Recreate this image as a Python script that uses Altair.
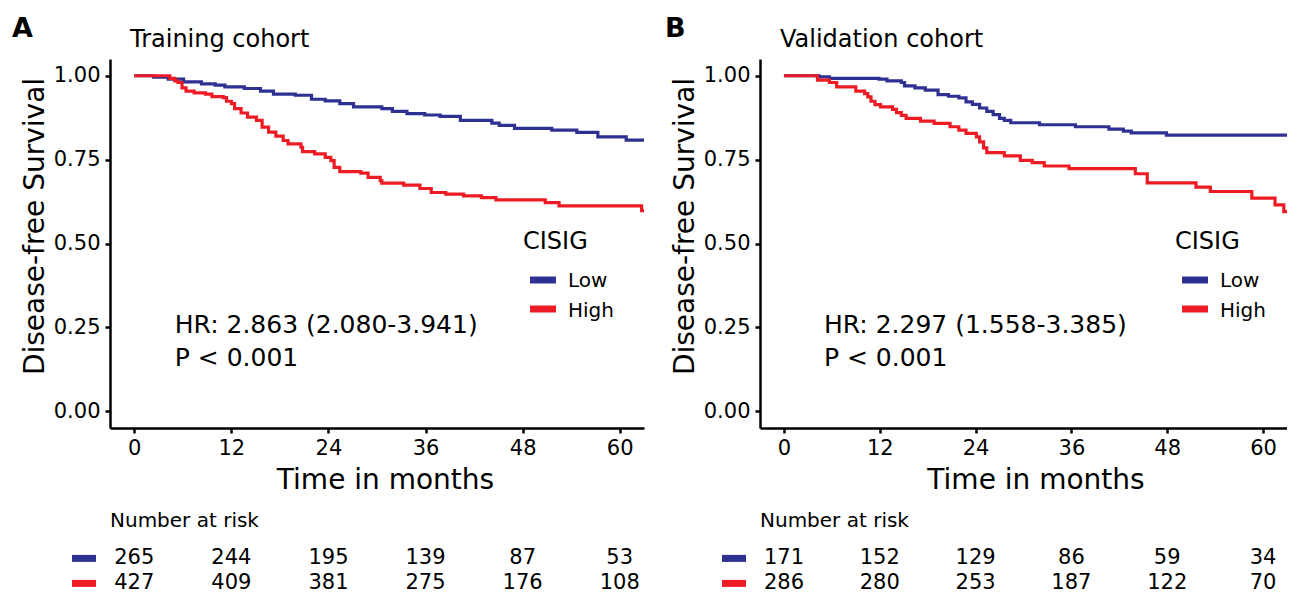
import altair as alt
import pandas as pd

BLUE = "#2E3192"
RED = "#ED1C24"
FONT = "DejaVu Sans"
GROUPS = ["Low", "High"]
TICKS = [0, 12, 24, 36, 48, 60]
YTICKS = [0, 0.25, 0.5, 0.75, 1.0]

# ---------------- Panel A: Training cohort ----------------
A_low_t = [0, 2.4, 4.2, 6.1, 8.3, 10.0, 11.2, 13.6, 15.6, 17.2, 19.9, 21.9, 23.6, 25.4,
           27.1, 30.6, 31.9, 33.7, 35.9, 37.8, 40.3, 44.2, 45.1, 47.0, 51.6, 54.7, 57.3,
           60.8, 63.0]
A_low_s = [1.000, 0.996, 0.990, 0.982, 0.976, 0.972, 0.967, 0.962, 0.954, 0.945, 0.942,
           0.930, 0.925, 0.917, 0.907, 0.902, 0.894, 0.887, 0.883, 0.879, 0.867, 0.859,
           0.852, 0.843, 0.838, 0.831, 0.818, 0.808, 0.808]
A_high_t = [0, 4.4, 5.0, 5.4, 5.9, 6.4, 7.4, 8.8, 9.6, 11.0, 11.4, 12.0, 12.4, 13.2, 14.0,
            15.1, 15.8, 16.6, 17.5, 18.4, 19.0, 20.6, 20.8, 22.3, 23.6, 24.3, 24.7, 25.4,
            28.0, 28.9, 30.4, 30.6, 33.3, 35.3, 36.7, 38.5, 40.7, 42.9, 44.7, 50.8, 52.5,
            62.7, 63.0]
A_high_s = [1.000, 0.992, 0.985, 0.980, 0.964, 0.954, 0.949, 0.945, 0.938, 0.935, 0.924,
            0.917, 0.902, 0.889, 0.877, 0.867, 0.847, 0.832, 0.820, 0.807, 0.797, 0.787,
            0.774, 0.767, 0.757, 0.747, 0.727, 0.714, 0.710, 0.697, 0.687, 0.680, 0.674,
            0.664, 0.652, 0.647, 0.642, 0.637, 0.630, 0.622, 0.612, 0.598, 0.598]
A_risk_low = [265, 244, 195, 139, 87, 53]
A_risk_high = [427, 409, 381, 275, 176, 108]
A_hr = "HR: 2.863 (2.080-3.941)"

# ---------------- Panel B: Validation cohort ----------------
B_low_t = [0, 4.4, 5.7, 11.9, 12.9, 14.7, 15.1, 16.4, 17.7, 19.3, 20.6, 21.9, 22.8, 23.6,
           24.5, 25.4, 26.2, 27.0, 27.6, 28.4, 32.0, 36.5, 40.7, 42.5, 43.5, 47.9, 63.0]
B_low_s = [1.000, 0.997, 0.992, 0.990, 0.985, 0.980, 0.970, 0.964, 0.957, 0.944, 0.939,
           0.934, 0.922, 0.915, 0.904, 0.894, 0.884, 0.873, 0.867, 0.860, 0.854, 0.848,
           0.841, 0.835, 0.830, 0.823, 0.823]
B_high_t = [0, 4.2, 5.7, 6.6, 9.0, 10.1, 10.5, 10.9, 11.4, 12.1, 13.6, 14.1, 14.7, 15.3,
            17.1, 18.8, 20.8, 21.9, 22.8, 24.1, 24.5, 25.0, 25.4, 27.6, 29.6, 31.1, 32.6,
            35.7, 44.0, 45.5, 51.6, 53.4, 58.6, 61.5, 62.6, 63.0]
B_high_s = [1.000, 0.987, 0.980, 0.967, 0.954, 0.947, 0.937, 0.924, 0.914, 0.907, 0.900,
            0.890, 0.882, 0.873, 0.865, 0.858, 0.848, 0.838, 0.828, 0.818, 0.803, 0.785,
            0.771, 0.761, 0.748, 0.741, 0.731, 0.723, 0.708, 0.681, 0.668, 0.655, 0.635,
            0.615, 0.595, 0.595]
B_risk_low = [171, 152, 129, 86, 59, 34]
B_risk_high = [286, 280, 253, 187, 122, 70]
B_hr = "HR: 2.297 (1.558-3.385)"

H = 369


def one_row():
    return alt.Data(values=[{"k": 1}])


def text_px(txt, x, y, size, bold=False, align="left", baseline="alphabetic"):
    return alt.Chart(one_row()).mark_text(
        text=txt, font=FONT, fontSize=size, fontWeight="bold" if bold else "normal",
        align=align, baseline=baseline, color="black"
    ).encode(x=alt.value(x), y=alt.value(y))


def rule_px(color, x1, x2, y, width=7):
    return alt.Chart(one_row()).mark_rule(color=color, strokeWidth=width).encode(
        x=alt.value(x1), x2=alt.value(x2), y=alt.value(y)
    )


def panel(letter, letter_x, title, lt, ls, ht, hs, rlow, rhigh, hr, lg_dx, width, tdx):
    xs = alt.Scale(domain=[-3.0, 63.0], nice=False, zero=False)
    ys = alt.Scale(domain=[-0.05, 1.05], nice=False, zero=False)
    xenc = alt.X("time:Q", scale=xs, axis=alt.Axis(
        values=TICKS, format="d", title="Time in months", labelPadding=4,
        titleX=width / 2 + tdx, titleY=60, titleAlign="center",
        titleBaseline="alphabetic"))
    yenc = alt.Y("surv:Q", scale=ys, axis=alt.Axis(
        values=YTICKS, format=".2f", title="Disease-free Survival",
        titleAngle=270, titleX=-67, titleY=167, titleAlign="center",
        titleBaseline="alphabetic"))
    color = alt.Color("group:N", scale=alt.Scale(domain=GROUPS, range=[BLUE, RED]),
                      legend=None)

    df = pd.concat([
        pd.DataFrame({"time": lt, "surv": ls, "group": "Low"}),
        pd.DataFrame({"time": ht, "surv": hs, "group": "High"}),
    ])
    curves = alt.Chart(df).mark_line(interpolate="step-after", strokeWidth=3.2,
                                     clip=True).encode(x=xenc, y=yenc, color=color)

    hrdf = pd.DataFrame({"time": [5.0, 5.0], "surv": [0.233, 0.134],
                         "label": [hr, "P < 0.001"]})
    hrt = alt.Chart(hrdf).mark_text(align="left", baseline="alphabetic", font=FONT,
                                    fontSize=25, color="black").encode(
        x=xenc, y=yenc, text="label:N")

    riskdf = pd.DataFrame({"time": TICKS + TICKS, "n": rlow + rhigh,
                           "group": ["Low"] * 6 + ["High"] * 6})
    risk_layers = []
    for g, ypx in zip(GROUPS, [499.4, 524.4]):
        risk_layers.append(
            alt.Chart(riskdf).transform_filter(alt.datum.group == g).mark_text(
                align="center", baseline="middle", font=FONT, fontSize=21, color="black"
            ).encode(x=xenc, text="n:Q", y=alt.value(ypx))
        )

    layers = [
        curves, hrt, *risk_layers,
        text_px(letter, letter_x, -22.3, 27, bold=True),
        text_px(title, 20, -12.3, 24),
        # legend
        text_px("CISIG", 413 + lg_dx, 189.7, 24),
        rule_px(BLUE, 420 + lg_dx, 446 + lg_dx, 221),
        rule_px(RED, 420 + lg_dx, 446 + lg_dx, 250),
        text_px(GROUPS[0], 458 + lg_dx, 227.7, 20),
        text_px(GROUPS[1], 458 + lg_dx, 257.7, 20),
        # risk table
        text_px("Number at risk", 0, 467.7, 20),
        rule_px(BLUE, -38, -14, 499.4),
        rule_px(RED, -38, -14, 524.4),
    ]
    return alt.layer(*layers).properties(width=width, height=H)


pA = panel("A", -98, "Training cohort", A_low_t, A_low_s, A_high_t, A_high_s,
           A_risk_low, A_risk_high, A_hr, 0, 534, 8)
pB = panel("B", -95, "Validation cohort", B_low_t, B_low_s, B_high_t, B_high_s,
           B_risk_low, B_risk_high, B_hr, 2, 527, 12)

chart = alt.hconcat(pA, pB, spacing=21).properties(
    padding={"left": 4, "top": 6, "right": 0, "bottom": 5}
).configure_view(stroke=None).configure_axis(
    grid=False, domainColor="black", domainWidth=2.5, tickColor="black", tickWidth=2.5,
    tickSize=5, labelFont=FONT, labelFontSize=21, labelColor="black", labelPadding=5,
    titleFont=FONT, titleFontSize=28, titleFontWeight="normal", titleColor="black",
    labelFlush=False
)

chart.save("out.html", embed_options={"renderer": "svg", "actions": False})
